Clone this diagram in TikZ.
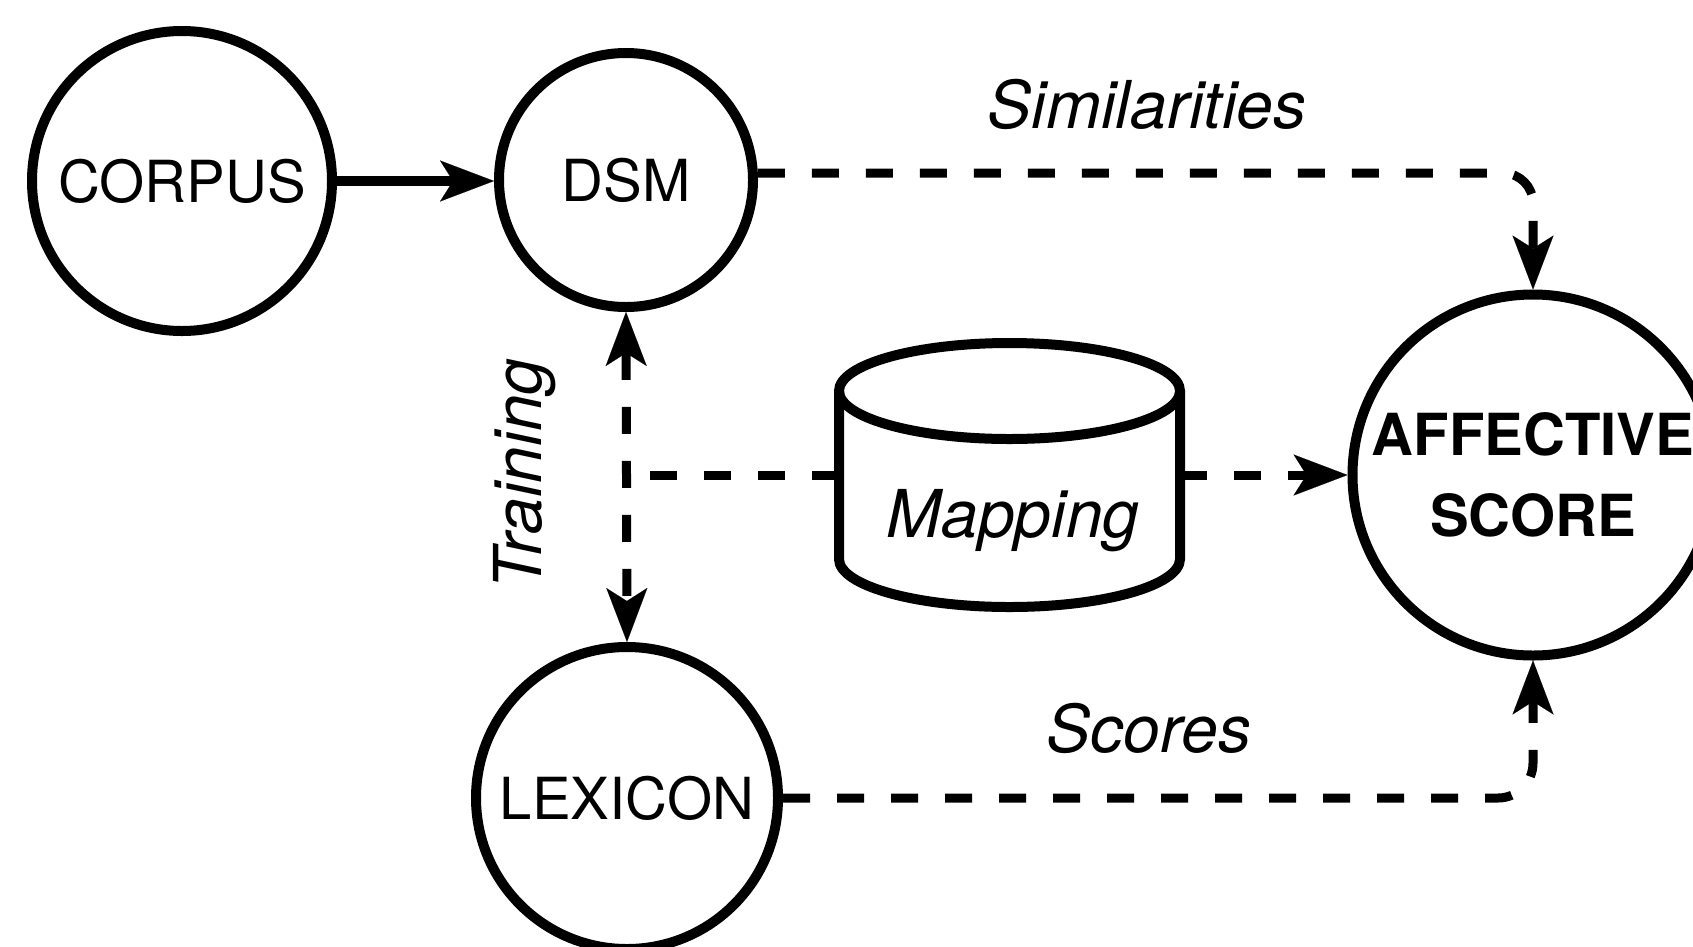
\documentclass[tikz,border=0pt]{standalone}
\usepackage{fontspec}
\setmainfont{TeX Gyre Heros}
\usetikzlibrary{arrows.meta}
\begin{document}
\begin{tikzpicture}[x=1pt,y=-1pt,
  stage/.style={circle, draw, line width=10pt, inner sep=0pt, font=\fontsize{58}{70}\selectfont},
  link/.style={line width=9pt, -{Stealth[length=54pt,width=41pt,inset=13pt,line width=0.1pt]}},
  flow/.style={link, dash pattern=on 27pt off 27pt},
  plainflow/.style={line width=9pt, dash pattern=on 27pt off 27pt},
  lbl/.style={font=\fontsize{66}{70}\selectfont\itshape}
]
\fill[white] (0,0) rectangle (1693,946);
\useasboundingbox (0,0) rectangle (1693,946);
\clip (0,0) rectangle (1693,946);

% stages
\node[stage, minimum size=300pt] (corpus) at (182,181) {CORPUS};
\node[stage, minimum size=254pt] (dsm) at (626,180) {DSM};
\node[stage, minimum size=302pt] (lex) at (627,798) {LEXICON};
\node[stage, minimum size=361pt, align=center,
      font=\fontsize{58}{81}\selectfont\bfseries] (aff) at (1533,475) {AFFECTIVE\\SCORE};

% mapping store (cylinder)
\node[minimum width=341pt, minimum height=264pt, inner sep=0pt] (map) at (1009.5,475) {};
\draw[line width=10pt] (839,391) -- (839,559)
  arc[start angle=180, end angle=360, x radius=170.5pt, y radius=48pt] -- (1180,391);
\draw[line width=10pt] (1009.5,391) ellipse [x radius=170.5pt, y radius=48pt];
\node[lbl, anchor=base] (maptxt) at (1013,537) {Mapping};

% labels
\node[lbl, anchor=base] (sim) at (1147,128) {Similarities};
\node[lbl, anchor=base] (scores) at (1149,752) {Scores};
\node[lbl, anchor=base, rotate=90] (train) at (541,474) {Training};

% connectors
\draw[link, line width=10pt] (corpus.east) -- (corpus.east -| dsm.west);
\draw[flow, rounded corners=30pt] (dsm.3) -| (aff.north);
\draw[plainflow, {Stealth[length=54pt,width=41pt,inset=13pt,line width=0.1pt]}-{Stealth[length=54pt,width=41pt,inset=13pt,line width=0.1pt]}] (dsm.south) -- (lex.north);
\draw[plainflow] (map.west) -- (map.west -| dsm.south);
\draw[flow] (map.east) -- (aff.west);
\draw[flow, rounded corners=35pt] (lex.east) -| (aff.south);
\end{tikzpicture}
\end{document}
